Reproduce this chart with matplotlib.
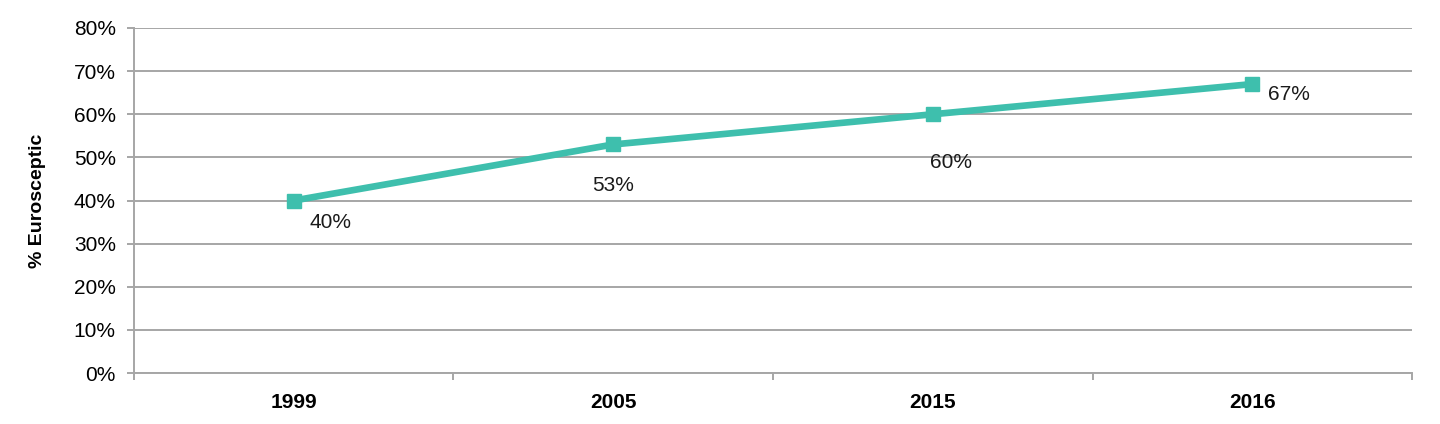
"""Euroscepticism share over time"""

import matplotlib
matplotlib.use("Agg")
import matplotlib.pyplot as plt
from matplotlib.ticker import FixedLocator, PercentFormatter

years = ['1999', '2005', '2015', '2016']
share = [40, 53, 60, 67]
# label offsets (pixels) relative to each point
label_offsets = [(37, -22), (0, -41), (18, -48), (37, -10)]

plt.rcParams['font.family'] = ['Liberation Sans', 'DejaVu Sans']

grey = '#a6a6a6'
teal = '#3ebfad'

fig = plt.figure(figsize=(14.4, 4.24), dpi=100)
ax = fig.add_axes([0.093, 0.120, 0.8876, 0.814])

x = list(range(len(years)))
ax.plot(x, share, color=teal, lw=4.8, marker='s', ms=10, zorder=3)

for xi, yi, (dx, dy) in zip(x, share, label_offsets):
    ax.annotate(f"{yi}%", (xi, yi), xytext=(dx, dy), textcoords='offset pixels',
                ha='center', va='center', fontsize=15, color='#1a1a1a')

ax.set_xlim(-0.5, len(years) - 0.5)
ax.set_ylim(0, 80)
ax.set_yticks(range(0, 81, 10))
ax.yaxis.set_major_formatter(PercentFormatter(decimals=0))
ax.yaxis.grid(True, color=grey, lw=1.4)
ax.set_axisbelow(True)

ax.set_xticks(x)
ax.set_xticklabels(years, fontsize=15, fontweight='bold')
ax.tick_params(axis='x', which='major', length=0, pad=14)
ax.xaxis.set_minor_locator(FixedLocator([i - 0.5 for i in range(len(years) + 1)]))
ax.tick_params(axis='x', which='minor', length=5, color=grey, width=1.4)
ax.tick_params(axis='y', length=5, color=grey, width=1.4, labelsize=15, pad=8)

for side in ['top', 'right']:
    ax.spines[side].set_visible(False)
for side in ['left', 'bottom']:
    ax.spines[side].set_color(grey)
    ax.spines[side].set_linewidth(1.4)

ax.set_ylabel('% Eurosceptic', fontsize=14, fontweight='bold', labelpad=20)

fig.savefig('out.png', dpi=100)
